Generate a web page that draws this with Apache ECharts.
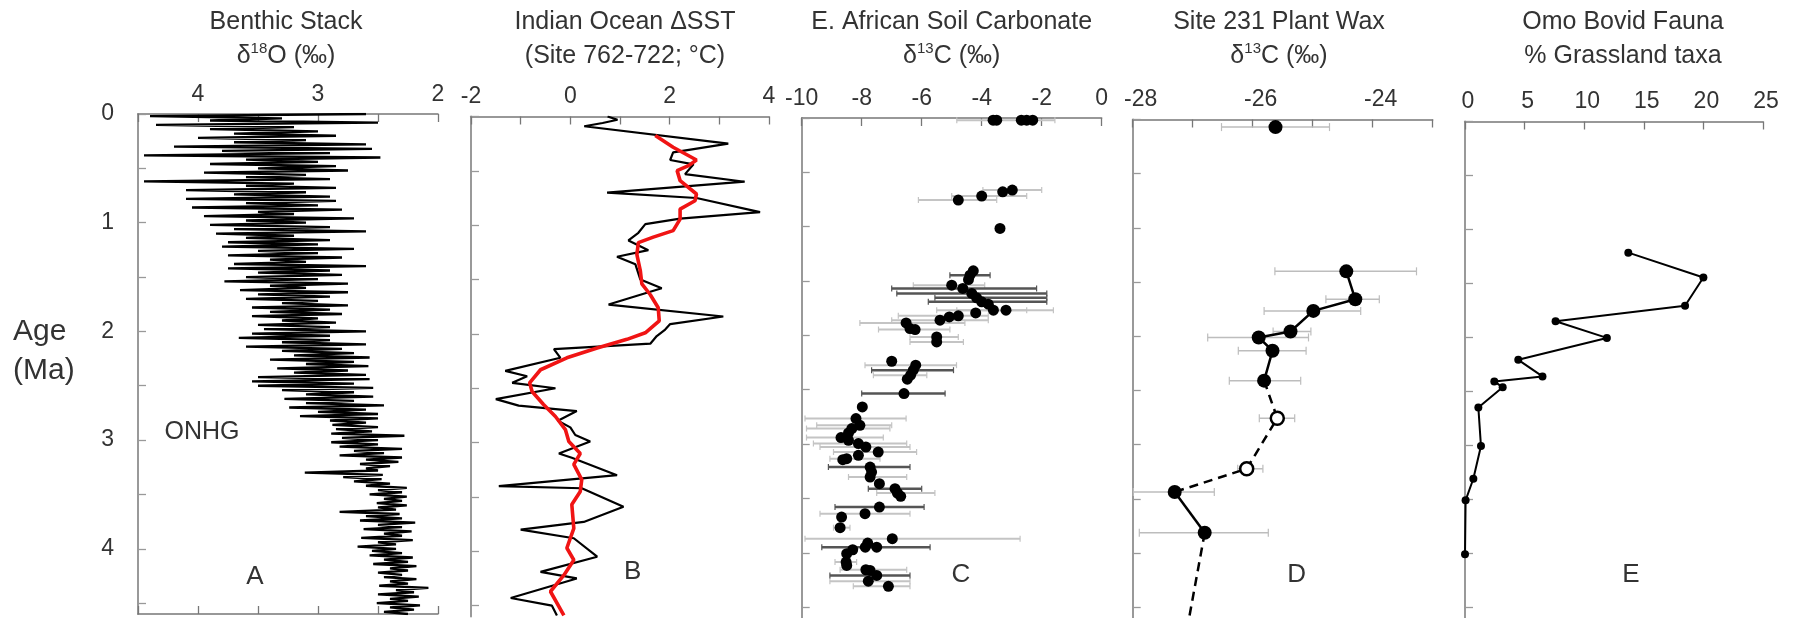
<!DOCTYPE html>
<html><head><meta charset="utf-8">
<script src="https://cdn.jsdelivr.net/npm/echarts@6/dist/echarts.min.js"></script>
<style>html,body{margin:0;padding:0;background:#fff}#c{width:1798px;height:618px}</style>
</head><body><div id="c"></div>
<script>
// ---------------- DATA ----------------
// Shared age axis (Ma)
const ageTicks = [0, 0.5, 1, 1.5, 2, 2.5, 3, 3.5, 4, 4.5];
const ageLabels = [0, 1, 2, 3, 4];

// A: Benthic stack d18O, sampled every 0.02 Ma from 0 Ma
const benthicStartAge = 0;
const benthicStep = 0.02;
const benthicD18O = [
 2.6,4.4,3.3,3.9,2.5,4.35,3.2,3.9,3.0,3.7,
 2.85,4.0,3.1,3.7,2.6,4.2,2.55,3.8,2.9,4.45,
 2.48,3.6,3.0,3.9,2.85,3.5,2.75,3.95,3.1,3.6,
 2.9,4.45,3.2,3.6,2.85,4.1,3.1,3.7,2.9,4.1,
 2.85,3.6,3.0,4.05,2.8,3.5,3.2,3.95,2.7,3.6,
 3.1,3.9,2.9,3.7,2.6,3.85,3.2,3.6,2.9,3.75,
 3.0,3.8,2.7,3.5,3.0,3.75,2.8,3.4,3.1,3.7,
 2.6,3.75,2.9,3.5,2.8,3.6,3.0,3.78,2.75,3.4,
 3.1,3.65,2.75,3.5,2.9,3.6,3.0,3.3,2.75,3.55,
 2.9,3.4,2.8,3.55,3.0,3.3,2.85,3.5,2.9,3.45,
 2.6,3.55,2.9,3.66,2.9,3.3,2.6,3.6,2.8,3.3,
 2.7,3.2,2.57,3.4,2.7,3.1,2.58,3.34,2.75,3.2,
 2.6,3.5,2.57,3.55,2.7,3.5,2.54,3.3,2.7,3.1,
 2.54,3.28,2.7,3.1,2.45,3.24,2.6,3.0,2.5,3.15,
 2.5,2.9,2.6,2.88,2.5,2.85,2.55,2.89,2.28,2.8,
 2.5,2.89,2.5,2.82,2.3,2.7,2.45,2.82,2.3,2.6,
 2.33,2.65,2.4,2.6,2.5,3.11,2.46,2.79,2.47,2.7,
 2.4,2.6,2.26,2.5,2.3,2.57,2.26,2.45,2.3,2.51,
 2.26,2.5,2.35,2.82,2.32,2.6,2.3,2.65,2.19,2.5,
 2.3,2.62,2.22,2.45,2.3,2.64,2.21,2.5,2.35,2.67,
 2.35,2.55,2.3,2.57,2.21,2.45,2.25,2.54,2.18,2.4,
 2.25,2.5,2.3,2.45,2.18,2.4,2.25,2.49,2.08,2.35,
 2.2,2.5,2.16,2.4,2.25,2.51,2.15,2.4,2.2,2.45,2.25
];
const benthicTicks = [2, 2.5, 3, 3.5, 4, 4.5];
const benthicLabels = [2, 3, 4];

// B: Indian Ocean dSST (raw and smoothed)
const sstAge = [0.00,0.03,0.06,0.09,0.25,0.33,0.40,0.44,0.53,0.60,0.70,0.75,0.88,0.94,0.99,1.07,1.14,1.23,1.29,1.36,1.50,1.58,1.64,1.73,1.84,1.91,1.96,2.02,2.09,2.14,2.22,2.34,2.39,2.45,2.50,2.60,2.66,2.71,2.80,2.86,2.93,2.99,3.10,3.14,3.30,3.40,3.42,3.59,3.73,3.80,3.88,4.05,4.19,4.25,4.43,4.50,4.59];
const sstVal = [0.75,0.95,0.65,0.28,3.18,2.07,2.01,2.48,2.31,3.51,0.74,2.54,3.82,2.21,1.51,1.37,1.17,1.57,0.94,1.31,1.41,1.84,1.41,0.77,3.08,2.01,1.91,1.74,1.61,-0.33,-0.2,-1.31,-0.87,-1.17,-0.3,-1.5,-1.04,0.13,-0.25,0.0,0.1,0.4,-0.23,0.03,0.94,-1.44,0.23,1.07,0.27,-1.0,0.07,0.54,-0.6,0.13,-1.2,-0.37,-0.27];
const sstSmoothAge = [0.175,0.283,0.40,0.452,0.498,0.59,0.713,0.775,0.852,0.944,1.05,1.11,1.16,1.27,1.42,1.54,1.64,1.76,1.88,1.99,2.05,2.13,2.22,2.33,2.45,2.53,2.65,2.76,2.88,2.99,3.10,3.20,3.34,3.45,3.57,3.79,3.97,4.08,4.22,4.37,4.59];
const sstSmoothVal = [1.71,2.07,2.54,2.38,2.15,2.21,2.54,2.51,2.21,2.21,2.07,1.67,1.37,1.34,1.41,1.44,1.61,1.77,1.79,1.51,1.14,0.54,-0.07,-0.6,-0.82,-0.77,-0.54,-0.3,-0.1,-0.03,0.2,0.07,0.23,0.2,0.03,0.07,-0.07,0.07,-0.13,-0.4,-0.13];
const sstTicks = [-2, -1, 0, 1, 2, 3, 4];
const sstLabels = [-2, 0, 2, 4];

// C: E. African soil carbonate d13C  [age, d13C]
const soilPoints = [
 [0.02,-3.62],[0.02,-3.5],[0.02,-2.68],[0.02,-2.5],[0.02,-2.3],
 [0.663,-2.98],[0.679,-3.30],[0.718,-4.0],[0.755,-4.78],
 [1.016,-3.39],
 [1.406,-4.28],[1.446,-4.39],[1.486,-4.44],
 [1.538,-5.0],[1.568,-4.63],[1.614,-4.33],[1.654,-4.17],[1.691,-4.0],[1.713,-3.78],[1.768,-3.61],[1.768,-3.19],[1.793,-4.2],
 [1.82,-4.78],[1.83,-5.08],[1.86,-5.39],[1.885,-6.52],[1.937,-6.39],[1.946,-6.22],[2.014,-5.5],[2.06,-5.5],
 [2.238,-7.0],[2.274,-6.2],[2.32,-6.28],[2.366,-6.37],[2.403,-6.48],[2.535,-6.59],
 [2.658,-7.98],[2.765,-8.19],[2.827,-8.06],[2.857,-8.33],[2.898,-8.44],[2.94,-8.69],[2.965,-8.44],[2.995,-8.11],[3.027,-7.86],[3.073,-7.45],[3.103,-8.11],[3.134,-8.5],[3.143,-8.63],
 [3.211,-7.72],[3.257,-7.67],[3.303,-7.72],[3.364,-7.41],[3.41,-6.89],[3.45,-6.81],[3.481,-6.7],
 [3.579,-7.41],[3.64,-7.89],[3.671,-8.67],[3.769,-8.72],
 [3.87,-6.98],[3.911,-7.8],[3.948,-7.88],[3.948,-7.5],[3.972,-8.3],[4.008,-8.5],[4.085,-8.52],[4.116,-8.5],
 [4.156,-7.86],[4.162,-7.72],[4.208,-7.5],[4.261,-7.78],[4.309,-7.11]
];
// error ranges [age, low, high]; two source groups
const soilErrGroup1 = [
 [0.02,-4.83,-1.56],[0.663,-3.96,-2.0],[0.718,-5.0,-2.5],[0.755,-6.11,-3.5],
 [1.538,-6.28,-3.9],[1.768,-5.5,-2.5],[1.768,-4.83,-1.61],[1.82,-6.78,-3.78],[1.86,-7.0,-3.78],
 [1.885,-8.06,-4.56],[1.946,-7.44,-5.06],[2.014,-6.39,-4.78],[2.06,-6.39,-4.61],
 [2.274,-7.89,-4.84],[2.366,-7.61,-5.83],
 [2.765,-9.89,-6.52],[2.827,-9.5,-7.0],[2.857,-9.84,-7.06],[2.94,-9.84,-7.28],[2.995,-9.61,-6.5],
 [3.027,-9.39,-6.39],[3.073,-8.94,-6.17],[3.134,-9.06,-7.39],[3.303,-8.44,-6.5],[3.45,-7.5,-5.56],
 [3.64,-9.39,-6.39],[3.769,-8.94,-8.39],[3.87,-9.89,-2.72],[4.085,-8.89,-8.17],
 [4.156,-8.72,-6.5],[4.261,-9.06,-6.39],[4.309,-8.28,-6.39]
];
const soilErrGroup2 = [
 [1.446,-5.06,-3.72],[1.568,-7.0,-2.17],[1.614,-6.83,-1.83],[1.654,-5.56,-1.83],[1.691,-5.78,-1.83],
 [2.32,-7.67,-4.94],[2.535,-8.0,-5.22],[3.211,-9.11,-6.39],[3.41,-7.78,-6.0],
 [3.579,-8.89,-5.92],[3.948,-9.33,-5.72],[4.208,-9.06,-6.39]
];
const soilTicks = [-10, -8, -6, -4, -2, 0];
const soilLabels = [-10, -8, -6, -4, -2, 0];

// D: Site 231 plant wax d13C
const waxAge = [0.07,1.401,1.659,1.766,1.956,2.011,2.134,2.41,2.756,3.223,3.437,3.814,4.6];
const waxVal = [-25.62,-24.44,-24.29,-24.99,-25.37,-25.9,-25.67,-25.81,-25.59,-26.1,-27.3,-26.8,-27.06];
const waxLo  = [-26.52,-25.63,-24.78,-25.81,-25.66,-26.75,-26.24,-26.39,-25.89,-26.25,-27.99,-27.89,null];
const waxHi  = [-24.72,-23.27,-23.89,-24.2,-25.03,-25.07,-25.11,-25.2,-25.3,-25.83,-26.64,-25.74,null];
const waxKind = ['measured','measured','measured','measured','measured','measured','measured','measured','inferred','inferred','measured','measured','trend'];
const waxTicks = [-28, -27, -26, -25, -24, -23];
const waxLabels = [-28, -26, -24];

// E: Omo bovid fauna, % grassland taxa
const omoAge = [1.215,1.446,1.707,1.851,2.005,2.208,2.362,2.408,2.463,2.65,3.007,3.31,3.51,4.01];
const omoPct = [13.7,20.0,18.46,7.6,11.9,4.47,6.5,2.46,3.16,1.12,1.34,0.7,0.05,0.0];
const omoTicks = [0, 5, 10, 15, 20, 25];
const omoLabels = [0, 5, 10, 15, 20, 25];

// ---------------- CHART ----------------
const FONT = '"Liberation Sans", Arial, Helvetica, sans-serif';
const TXT = '#333';
const chart = echarts.init(document.getElementById('c'), null, {renderer: 'canvas'});

const grids = [
  {left: 138, top: 114, width: 300, height: 500},
  {left: 471, top: 116.5, width: 298, height: 500},
  {left: 801.7, top: 118, width: 300, height: 500},
  {left: 1132.7, top: 119.5, width: 300, height: 500},
  {left: 1465, top: 121.5, width: 298, height: 500}
];
const xSpecs = [
  {min: 2, max: 4.5, inverse: true, ticks: benthicTicks, labels: benthicLabels, pad: 0},
  {min: -2, max: 4, inverse: false, ticks: sstTicks, labels: sstLabels, pad: 0},
  {min: -10, max: 0, inverse: false, ticks: soilTicks, labels: soilLabels, pad: 0},
  {min: -28, max: -23, inverse: false, ticks: waxTicks, labels: waxLabels, pad: 16},
  {min: 0, max: 25, inverse: false, ticks: omoTicks, labels: omoLabels, pad: 6}
];

const xAxes = xSpecs.map((s, i) => ({
  type: 'value', gridIndex: i, position: 'top', min: s.min, max: s.max, inverse: s.inverse,
  axisLine: {show: true, onZero: false, lineStyle: {color: '#777', width: 1.5}},
  axisTick: {show: true, inside: true, length: 8, customValues: s.ticks, lineStyle: {color: '#777', width: 1.3}},
  axisLabel: {show: true, customValues: s.labels, margin: 8, fontSize: 23, color: TXT, fontFamily: FONT,
              padding: [0, 0, 0, s.pad]},
  splitLine: {show: false}
}));
// bottom axis of panel A
xAxes.push({
  type: 'value', gridIndex: 0, position: 'bottom', min: 2, max: 4.5, inverse: true,
  axisLine: {show: true, onZero: false, lineStyle: {color: '#777', width: 1.5}},
  axisTick: {show: true, inside: true, length: 8, customValues: benthicTicks, lineStyle: {color: '#777', width: 1.3}},
  axisLabel: {show: false}, splitLine: {show: false}
});

const yAxes = grids.map((g, i) => ({
  type: 'value', gridIndex: i, inverse: true, min: 0, max: 4.6,
  axisLine: {show: true, onZero: false, lineStyle: {color: '#999', width: 2}},
  axisTick: {show: true, inside: true, length: 8, customValues: ageTicks, lineStyle: {color: '#999', width: 1.3}},
  axisLabel: {show: i === 0, customValues: ageLabels, margin: 24, fontSize: 23, color: TXT, fontFamily: FONT},
  splitLine: {show: false}
}));

function errSeries(idx, data, color, width, cap, z) {
  return {
    type: 'custom', xAxisIndex: idx, yAxisIndex: idx, data: data, z: z, silent: true,
    encode: {x: [1, 2], y: 0},
    renderItem: function (params, api) {
      const age = api.value(0), lo = api.value(1), hi = api.value(2);
      const a = api.coord([lo, age]), b = api.coord([hi, age]);
      const st = {stroke: color, lineWidth: width};
      const cs = {stroke: color, lineWidth: 1.2};
      return {type: 'group', children: [
        {type: 'line', shape: {x1: a[0], y1: a[1], x2: b[0], y2: b[1]}, style: st},
        {type: 'line', shape: {x1: a[0], y1: a[1] - cap, x2: a[0], y2: a[1] + cap}, style: cs},
        {type: 'line', shape: {x1: b[0], y1: b[1] - cap, x2: b[0], y2: b[1] + cap}, style: cs}
      ]};
    }
  };
}

const series = [];
// A
series.push({
  type: 'line', xAxisIndex: 0, yAxisIndex: 0, symbol: 'none', z: 3,
  data: benthicD18O.map((v, i) => [v, benthicStartAge + i * benthicStep]),
  lineStyle: {color: '#000', width: 2.3}
});
// B
series.push({
  type: 'line', xAxisIndex: 1, yAxisIndex: 1, symbol: 'none', z: 3,
  data: sstVal.map((v, i) => [v, sstAge[i]]),
  lineStyle: {color: '#000', width: 2.2}
});
series.push({
  type: 'line', xAxisIndex: 1, yAxisIndex: 1, symbol: 'none', z: 4,
  data: sstSmoothVal.map((v, i) => [v, sstSmoothAge[i]]),
  lineStyle: {color: '#f01414', width: 3.6}
});
// C
series.push(errSeries(2, soilErrGroup1, '#c4c4c4', 2, 3, 2));
series.push(errSeries(2, soilErrGroup2, '#555', 2.5, 3, 3));
series.push({
  type: 'scatter', xAxisIndex: 2, yAxisIndex: 2, symbol: 'circle', symbolSize: 11, z: 5,
  data: soilPoints.map(p => [p[1], p[0]]),
  itemStyle: {color: '#000', opacity: 1}
});
// D
const waxErr = waxAge.map((a, i) => waxLo[i] == null ? null : [a, waxLo[i], waxHi[i]]).filter(d => d);
series.push(errSeries(3, waxErr, '#bdbdbd', 1.5, 4, 2));
const solidRuns = [[1, 7], [10, 11]];
const dashedRuns = [[7, 10], [11, 12]];
function runData(r) { const d = []; for (let k = r[0]; k <= r[1]; k++) d.push([waxVal[k], waxAge[k]]); return d; }
solidRuns.forEach(r => series.push({type: 'line', xAxisIndex: 3, yAxisIndex: 3, symbol: 'none', z: 3,
  data: runData(r), lineStyle: {color: '#000', width: 2.5}}));
dashedRuns.forEach(r => series.push({type: 'line', xAxisIndex: 3, yAxisIndex: 3, symbol: 'none', z: 3,
  data: runData(r), lineStyle: {color: '#000', width: 2.5, type: [9, 6]}}));
series.push({
  type: 'scatter', xAxisIndex: 3, yAxisIndex: 3, symbol: 'circle', symbolSize: 14, z: 5,
  data: waxAge.map((a, i) => [waxVal[i], a, waxKind[i]]).filter(d => d[2] === 'measured'),
  itemStyle: {color: '#000', opacity: 1}
});
series.push({
  type: 'scatter', xAxisIndex: 3, yAxisIndex: 3, symbol: 'circle', symbolSize: 13, z: 5,
  data: waxAge.map((a, i) => [waxVal[i], a, waxKind[i]]).filter(d => d[2] === 'inferred'),
  itemStyle: {color: '#fff', borderColor: '#000', borderWidth: 2.5, opacity: 1}
});
// E
series.push({
  type: 'line', xAxisIndex: 4, yAxisIndex: 4, symbol: 'circle', symbolSize: 8, clip: false, z: 4,
  data: omoPct.map((v, i) => [v, omoAge[i]]),
  lineStyle: {color: '#000', width: 2}, itemStyle: {color: '#000', opacity: 1}
});
series.forEach(s => { s.animation = false; });

// text
function txt(x, y, text, size, align, rich) {
  const st = {text: text, fontSize: size, fontFamily: FONT, fill: TXT,
    align: align || 'center', textAlign: align || 'center', verticalAlign: 'middle', textVerticalAlign: 'middle'};
  if (rich) st.rich = rich;
  return {type: 'text', x: x, y: y, silent: true, style: st};
}
const supRich = {
  a: {fontSize: 25, lineHeight: 30, fontFamily: FONT, fill: TXT, color: TXT},
  s: {fontSize: 15, lineHeight: 15, fontFamily: FONT, fill: TXT, color: TXT, verticalAlign: 'top'}
};
const titles = [
  [286, 'Benthic Stack', '{a|δ}{s|18}{a|O (‰)}'],
  [625, 'Indian Ocean ΔSST', '(Site 762-722; °C)'],
  [951.7, 'E. African Soil Carbonate', '{a|δ}{s|13}{a|C (‰)}'],
  [1279, 'Site 231 Plant Wax', '{a|δ}{s|13}{a|C (‰)}'],
  [1623, 'Omo Bovid Fauna', '% Grassland taxa']
];
const graphics = [];
titles.forEach(t => {
  graphics.push(txt(t[0], 22, t[1], 25));
  graphics.push(txt(t[0], 56, t[2], 25, 'center', t[2].indexOf('{') === 0 ? supRich : null));
});
[['A', 255, 577], ['B', 632.7, 572], ['C', 961, 575], ['D', 1296.7, 575], ['E', 1631, 575]]
  .forEach(l => graphics.push(txt(l[1], l[2], l[0], 26)));
graphics.push(txt(202, 432, 'ONHG', 25));
graphics.push(txt(13, 332, 'Age', 30, 'left'));
graphics.push(txt(13, 371, '(Ma)', 30, 'left'));

chart.setOption({
  animation: false,
  backgroundColor: '#fff',
  grid: grids.map(g => Object.assign({containLabel: false}, g)),
  xAxis: xAxes,
  yAxis: yAxes,
  series: series,
  graphic: {elements: graphics}
});
</script></body></html>
